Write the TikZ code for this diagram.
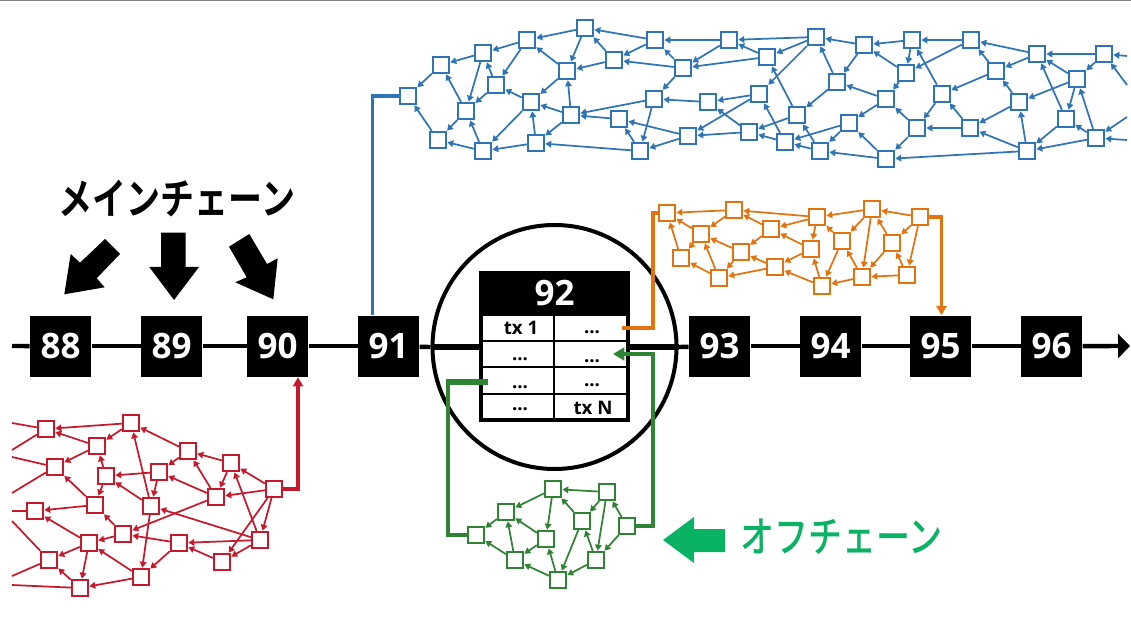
\documentclass[tikz,border=0pt]{standalone}
\usepackage{fontspec}
\usepackage{graphicx}
\setmainfont{Open Sans}
\newfontfamily\jpfont{Noto Sans CJK JP Bold}
\newfontfamily\jpmed{Noto Sans CJK JP Medium}
\usetikzlibrary{arrows.meta,calc}
\definecolor{cblue}{HTML}{2E75B6}
\definecolor{cred}{HTML}{C8182C}
\definecolor{corange}{HTML}{E2730F}
\definecolor{cgreen}{HTML}{2F8433}
\definecolor{cmint}{HTML}{0AB263}
\tikzset{
  x=0.75pt,y=-0.75pt,
  pnode/.style={draw=#1,fill=white,rectangle,line width=1.4pt,minimum size=12.3pt,inner sep=0pt},
  pedge/.style={draw=#1,line width=1.3pt,-{Triangle[length=4.4pt,width=5pt]},shorten >=0.2pt},
  pstub/.style={draw=#1,line width=1.3pt},
  link/.style={draw=#1,line width=2.5pt},
  linktip/.style={draw=#1,line width=2.5pt,-{Triangle[length=7pt,width=7.5pt]}},
  block/.style={fill=black,text=white,minimum size=46pt,inner sep=0pt,font=\fontsize{26.25}{30}\selectfont\bfseries},
  tline/.style={draw=black,line width=3.3pt},
  tthick/.style={draw=black,line width=5.2pt},
  cell/.style={anchor=base,inner sep=0pt,font=\fontsize{14}{16}\selectfont\bfseries},
  rulea/.style={draw=black,line width=1.4pt},
  ruleb/.style={draw=black,line width=1pt},
}
\begin{document}
\begin{tikzpicture}
\useasboundingbox (0,0) rectangle (1131,634);
\draw[gray,line width=0.75pt] (0,0.4) -- (1131,0.4);

% --- main chain
\foreach \n/\x in {88/60.6,89/171.6,90/277.6,91/388.6,93/719.6,94/830.6,95/940.6,96/1051.6}
  \node[block] (n\n) at (\x,346.2) {\n};
\coordinate (tstart) at (12,346);
\coordinate (tend) at (1130,346);

% --- table in the circle
\node[draw=black,line width=3pt,rectangle,minimum width=110.4pt,minimum height=110.4pt,inner sep=0pt] (tbl) at (554.5,346.5) {};
\node[draw=black,line width=3pt,circle,minimum size=183pt,inner sep=0pt] (circ) at (554.5,347) {};
\node[fill=black,text=white,rectangle,minimum width=113.3pt,minimum height=34pt,inner sep=0pt,font=\fontsize{26.25}{30}\selectfont\bfseries] (hdr) at (554.5,293.5) {92};
\node[cell] (c11) at (521,335) {tx 1};
\node[cell] (c12) at (592,334) {...};
\node[cell] (c21) at (520,361) {...};
\node[cell] (c22) at (592,363) {...};
\node[cell] (c31) at (520,388) {...};
\node[cell] (c32) at (592,387) {...};
\node[cell] (c41) at (520,411) {...};
\node[cell] (c42) at (593,414) {tx N};
\draw[rulea] (481,341) -- (628,341);
\draw[rulea] (481,367.3) -- (628,367.3);
\draw[rulea] (481,394) -- (628,394);
\draw[ruleb] (554,316) -- (554,420);

% timeline
\draw[tline] (tstart) -- (n88);
\draw[tline] (n88) -- (n89);
\draw[tline] (n89) -- (n90);
\draw[tline] (n90) -- (n91);
\draw[tline] (n91) -- (circ.west);
\draw[tthick] (circ.west) -- (tbl.west |- circ.west);
\draw[tthick] (tbl.east |- circ.east) -- (circ.east);
\draw[tline] (circ.east) -- (n93);
\draw[tline] (n93) -- (n94);
\draw[tline] (n94) -- (n95);
\draw[tline] (n95) -- (n96);
\draw[tline,-{Triangle[length=9pt,width=18pt]}] (n96) -- (tend);

% --- blue network
\foreach \n/\x/\y in {b1/408/96,b2/441/65,b3/483/53,b4/527/40,b5/585/28,b6/655/40,b7/729/40,b8/614/60,b9/567/71,b10/683/68,b11/496/85,b12/466/111,b13/531/102,b14/571/115,b15/654/99,b16/708/102,b17/619/119,b18/438/140,b19/483/151,b20/536/143,b21/640/151,b22/688/136,b23/749/132,c1/816/37,c2/767/57,c3/864/45,c4/912/40,c5/971/40,c6/1037/54,c7/1104/54,c8/996/71,c9/1077/79,c10/906/73,c11/837/82,c12/759/94,c13/886/99,c14/942/94,c15/1019/102,c16/797/115,c17/849/123,c18/917/128,c19/970/128,c20/1066/119,c22/785/142,c23/820/151,c24/1096/138,c25/1027/151,c26/886/159}
  \node[pnode=cblue] (\n) at (\x,\y) {};
\foreach \a/\b in {b2/b1,b18/b1,b3/b2,b12/b2,b4/b3,b11/b3,b3/b12,b5/b4,b9/b4,b4/b11,b6/b5,b8/b5,b5/b9,b7/b6,b10/b6,b6/b8,b8/b9,b10/b8,b7/b10,c1/b7,c2/b7,c2/b10,b10/b15,b9/b13,b14/b9,b11/b12,b13/b11,b14/b13,b14/b20,b15/b14,b17/b14,b13/b19,b20/b13,b12/b18,b19/b12,b19/b18,b20/b19,b21/b20,b21/b17,b22/b17,b22/b21,b15/b21,b16/b15,b23/b16,b23/b22,c12/b22,c12/b16,c1/c2,c1/c12,c3/c1,c11/c1,c3/c11,c4/c3,c10/c3,c4/c10,c5/c4,c5/c10,c14/c4,c6/c5,c8/c5,c6/c8,c7/c6,c9/c6,c20/c6,c7/c9,c9/c15,c9/c20,c24/c9,c8/c14,c15/c8,c10/c13,c13/c11,c11/c16,c16/c2,c16/b23,c22/c12,c22/b23,c23/c22,c17/c22,c23/c16,c17/c23,c13/c17,c18/c13,c26/c17,c26/c23,c18/c26,c14/c18,c19/c14,c19/c18,c15/c19,c25/c19,c25/c15,c20/c25,c24/c25,c25/c26,c24/c20}
  \draw[pedge=cblue] (\a) -- (\b);
\coordinate (bs1) at (1127,56);
\coordinate (bs2) at (1127,85);
\coordinate (bs3) at (1127,117);
\coordinate (bs4) at (1127,140);
\draw[pedge=cblue] (bs1) -- (c7);
\draw[pedge=cblue] (bs2) -- (c7);
\draw[pedge=cblue] (bs3) -- (c24);
\draw[pedge=cblue] (bs4) -- (c24);
\coordinate (bc) at (372.5,96);
\draw[link=cblue,line join=miter] (b1) -- (bc) -- (bc |- n91.north);
\node[pnode=cblue] at (b1) {};

% --- red network
\foreach \n/\x/\y in {r1/46/429,r2/131/423,r3/97/446,r4/188/451,r5/231/463,r6/55/467,r7/106/476,r8/159/472,r9/274/489,r10/216/497,r11/95/505,r12/151/506,r13/35/511,r14/123/534,r15/260/540,r16/89/543,r17/179/543,r18/49/560,r19/222/562,r20/141/577,r21/80/588}
  \node[pnode=cred] (\n) at (\x,\y) {};
\foreach \a/\b in {r2/r1,r3/r1,r2/r3,r12/r2,r4/r2,r3/r6,r7/r3,r8/r7,r7/r11,r4/r8,r8/r12,r5/r4,r10/r4,r5/r10,r10/r8,r9/r5,r15/r5,r9/r10,r9/r15,r9/r19,r15/r19,r15/r17,r15/r12,r10/r14,r12/r7,r12/r20,r11/r6,r11/r13,r14/r11,r14/r16,r17/r14,r17/r20,r19/r17,r16/r13,r16/r18,r16/r21,r20/r16,r20/r21,r21/r18}
  \draw[pedge=cred] (\a) -- (\b);
\foreach \n/\x/\y/\s in {rs1/12/423/r1,rs2/12/450/r1,rs3/12/457/r6,rs4/12/493/r6,rs5/12/511/r13,rs6/12/521/r18,rs7/12/576/r18,rs8/12/585/r21}{
  \coordinate (\n) at (\x,\y);
  \draw[pstub=cred] (\s) -- (\n);
}
\coordinate (rc) at (298,489);
\draw[linktip=cred,line join=miter] (r9) -- (rc) -- (rc |- n90.south);
\node[pnode=cred] at (r9) {};

% --- orange network
\foreach \n/\x/\y in {o1/667/213,o2/734/210,o3/817/217,o4/872/209,o5/920/217,o6/771/229,o7/701/234,o8/842/241,o9/892/243,o10/811/249,o11/741/252,o12/681/258,o13/775/267,o14/719/278,o15/862/277,o16/907/275,o17/822/286}
  \node[pnode=corange] (\n) at (\x,\y) {};
\foreach \a/\b in {o2/o1,o7/o1,o12/o1,o7/o12,o2/o7,o3/o2,o6/o2,o3/o6,o4/o3,o5/o4,o6/o11,o11/o7,o14/o7,o11/o14,o14/o12,o13/o14,o13/o11,o10/o13,o10/o6,o3/o10,o8/o3,o4/o8,o4/o15,o5/o9,o9/o4,o5/o16,o16/o9,o9/o15,o16/o15,o15/o8,o8/o17,o15/o17,o17/o10,o17/o13}
  \draw[pedge=corange] (\a) -- (\b);
\coordinate (oc) at (941.5,217);
\draw[linktip=corange,line join=miter] (o5) -- (oc) -- (oc |- n95.north);
\node[pnode=corange] at (o5) {};
\coordinate (ol) at (653,213);
\coordinate (ob) at (653,328);
\coordinate (oe) at (622,328);
\draw[link=corange,line width=3.5pt,line join=miter] (o1.west) -- (ol) -- (ob) -- (oe);

% --- green network
\foreach \n/\x/\y in {g1/476/535,g2/506/512,g3/553/489,g4/607/492,g5/582/521,g6/627/526,g7/546/539,g8/515/560,g9/596/560,g10/558/580}
  \node[pnode=cgreen] (\n) at (\x,\y) {};
\foreach \a/\b in {g3/g2,g2/g1,g4/g3,g3/g7,g5/g3,g4/g5,g4/g9,g6/g4,g6/g9,g7/g2,g8/g2,g7/g8,g8/g1,g10/g8,g10/g7,g5/g10,g9/g5,g9/g10}
  \draw[pedge=cgreen] (\a) -- (\b);
\coordinate (gl) at (448,535);
\coordinate (gt) at (448,382);
\coordinate (ge) at (488,382);
\draw[link=cgreen,line join=miter] (g1.west) -- (gl) -- (gt);
\draw[link=cgreen,line width=3.8pt,line join=miter] ($(gt)+(-1.7,0)$) -- (ge);
\coordinate (gr) at (653,526);
\coordinate (gm) at (653,421);
\coordinate (gu) at (653,354);
\coordinate (gh) at (613,354);
\draw[link=cgreen,line join=miter] (g6.east) -- (gr) -- (gm);
\draw[link=cgreen,line width=3.6pt,line join=miter,-{Triangle[length=8.5pt,width=9.5pt]}] (gm) -- (gu) -- (gh);

% --- big arrows and titles
\fill[black] (64.3,294.3) -- (70.7,254) -- (80,262.7) -- (105,239) -- (120,254) -- (96.7,278.3) -- (104.7,287.3) -- cycle;
\fill[black] (161,232.7) -- (185.7,232.7) -- (185.7,267) -- (199,267) -- (174,300) -- (149.3,267) -- (161,267) -- cycle;
\fill[black] (249.3,234) -- (229,246.7) -- (246.7,277.3) -- (235.3,282.3) -- (273.3,299.3) -- (277.7,258.3) -- (267,264) -- cycle;
\fill[cmint] (663,540) -- (694,517) -- (694,529) -- (725,529) -- (725,552) -- (694,552) -- (694,563) -- cycle;
\node[inner sep=0pt,font=\jpfont\fontsize{25.5}{30}\selectfont] (title1) at (177,199) {\scalebox{1}[1.25]{メインチェーン}};
\node[inner sep=0pt,text=cmint,font=\jpmed\fontsize{25.5}{30}\selectfont] (title2) at (841.5,537) {\scalebox{1}[1.25]{オフチェーン}};
\end{tikzpicture}
\end{document}
